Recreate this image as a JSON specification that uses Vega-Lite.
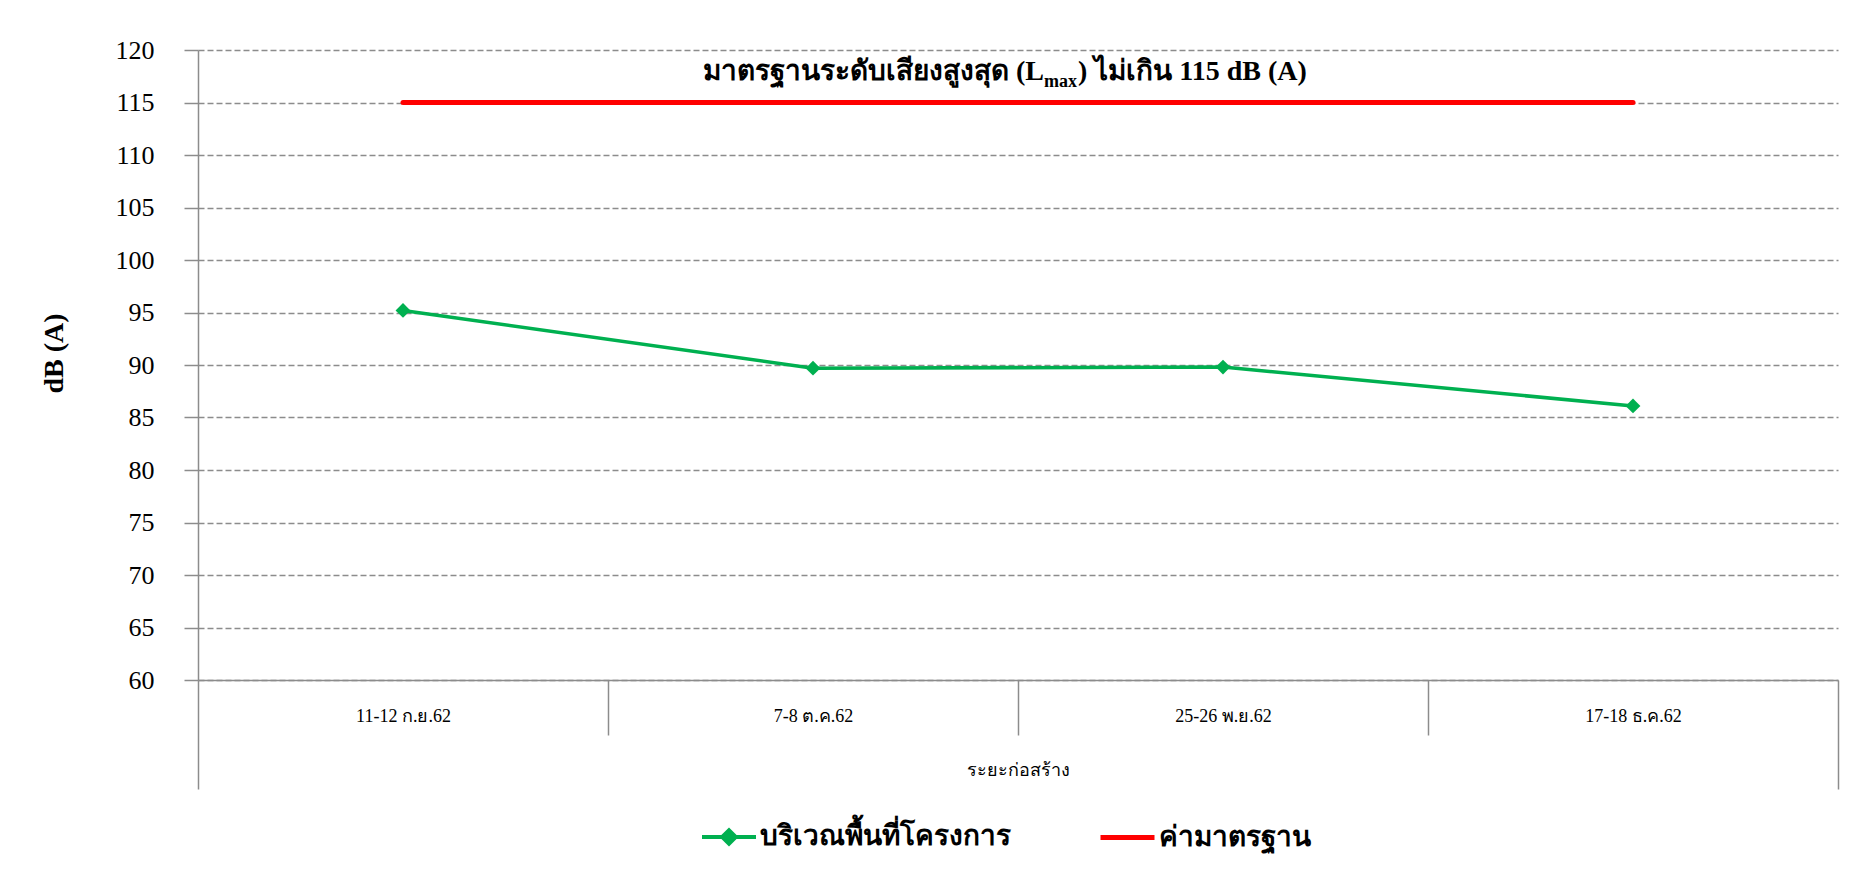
{
  "$schema": "https://vega.github.io/schema/vega-lite/v6.json",
  "autosize": {"type": "none"},
  "width": 1640,
  "height": 630,
  "padding": {"left": 198, "top": 50, "right": 37, "bottom": 215},
  "background": "white",
  "config": {"view": {"stroke": null}, "font": "Liberation Serif"},
  "datasets": {
    "measured": [
      {"period": "11-12 ก.ย.62", "value": 95.2, "series": "บริเวณพื้นที่โครงการ"},
      {"period": "7-8 ต.ค.62", "value": 89.7, "series": "บริเวณพื้นที่โครงการ"},
      {"period": "25-26 พ.ย.62", "value": 89.8, "series": "บริเวณพื้นที่โครงการ"},
      {"period": "17-18 ธ.ค.62", "value": 86.1, "series": "บริเวณพื้นที่โครงการ"}
    ],
    "standard": [
      {"period": "11-12 ก.ย.62", "value": 115, "series": "ค่ามาตรฐาน"},
      {"period": "7-8 ต.ค.62", "value": 115, "series": "ค่ามาตรฐาน"},
      {"period": "25-26 พ.ย.62", "value": 115, "series": "ค่ามาตรฐาน"},
      {"period": "17-18 ธ.ค.62", "value": 115, "series": "ค่ามาตรฐาน"}
    ],
    "note": [
      {"period": "25-26 พ.ย.62", "value": 117.9, "a": "มาตรฐานระดับเสียงสูงสุด (L", "b": "max", "c": ") ไม่เกิน 115 dB (A)"}
    ]
  },
  "layer": [
    {
      "data": {"name": "standard"},
      "mark": {"type": "line", "color": "#FF0000", "strokeWidth": 5, "strokeCap": "round"},
      "encoding": {
        "x": {
          "field": "period", "type": "nominal", "sort": null,
          "scale": {"type": "band", "paddingInner": 0, "paddingOuter": 0},
          "axis": {
            "title": "ระยะก่อสร้าง", "titleFont": "Liberation Serif", "titleFontSize": 18, "titleFontWeight": "normal", "titleColor": "black", "titlePadding": -28,
            "labelFont": "Liberation Serif", "labelFontSize": 18, "labelColor": "black", "labelAngle": 0,
            "labelPadding": {"condition": {"test": "datum.index === 1", "value": -82}, "value": -28},
            "tickBand": "extent",
            "tickSize": {"condition": {"test": "datum.index === 1 || !(datum.index >= 0 && datum.index < 1) || datum.extra", "value": 109}, "value": 55},
            "tickColor": "#8c8c8c", "tickWidth": 1.5, "domainColor": "#8c8c8c", "domainWidth": 1.5, "grid": false
          }
        },
        "y": {
          "field": "value", "type": "quantitative",
          "scale": {"domain": [60, 120], "nice": false, "zero": false},
          "axis": {
            "values": [60, 65, 70, 75, 80, 85, 90, 95, 100, 105, 110, 115, 120],
            "title": "dB (A)", "titleFont": "Liberation Serif", "titleFontSize": 28, "titleFontWeight": "bold", "titleColor": "black", "titlePadding": 47, "titleY": 303,
            "labelFont": "Liberation Serif", "labelFontSize": 26, "labelColor": "black", "labelPadding": 30,
            "tickSize": 14, "tickColor": "#8c8c8c", "tickWidth": 1.5, "domainColor": "#8c8c8c", "domainWidth": 1.5,
            "grid": true, "gridDash": [6, 3], "gridColor": "#8c8c8c", "gridWidth": 1.5
          }
        },
        "color": {
          "field": "series", "type": "nominal",
          "scale": {"range": ["#FF0000"]},
          "legend": {
            "title": null, "orient": "none", "legendX": 900, "legendY": 758,
            "symbolType": "stroke", "symbolSize": 2916, "symbolStrokeWidth": 5, "symbolStrokeColor": "#FF0000",
            "labelFont": "Liberation Serif", "labelFontSize": 28, "labelFontWeight": "bold", "labelColor": "black", "labelOffset": 2, "labelLimit": 0
          }
        }
      }
    },
    {
      "data": {"name": "measured"},
      "mark": {"type": "line", "color": "#00B050", "strokeWidth": 3.5, "point": {"shape": "diamond", "filled": true, "size": 220, "color": "#00B050"}},
      "encoding": {
        "x": {"field": "period", "type": "nominal", "sort": null},
        "y": {"field": "value", "type": "quantitative"},
        "color": {
          "field": "series", "type": "nominal",
          "scale": {"range": ["#00B050"]},
          "legend": {
            "title": null, "orient": "none", "legendX": 502, "legendY": 758,
            "symbolType": "M-1,0L1,0M-0.25,0L0,-0.25L0.25,0L0,0.25Z", "symbolSize": 2916, "symbolStrokeWidth": 4,
            "symbolFillColor": "#00B050", "symbolStrokeColor": "#00B050",
            "labelFont": "Liberation Serif", "labelFontSize": 28, "labelFontWeight": "bold", "labelColor": "black", "labelOffset": 2, "labelLimit": 0
          }
        }
      }
    },
    {
      "data": {"name": "note"},
      "mark": {"type": "text", "align": "right", "baseline": "middle", "font": "Liberation Serif", "fontSize": 28, "fontWeight": "bold", "color": "black", "dx": 26},
      "encoding": {
        "x": {"field": "period", "type": "nominal", "sort": null, "bandPosition": 0},
        "y": {"field": "value", "type": "quantitative"},
        "text": {"field": "a"}
      }
    },
    {
      "data": {"name": "note"},
      "mark": {"type": "text", "align": "left", "baseline": "middle", "font": "Liberation Serif", "fontSize": 18, "fontWeight": "bold", "color": "black", "dx": 26, "dy": 10},
      "encoding": {
        "x": {"field": "period", "type": "nominal", "sort": null, "bandPosition": 0},
        "y": {"field": "value", "type": "quantitative"},
        "text": {"field": "b"}
      }
    },
    {
      "data": {"name": "note"},
      "mark": {"type": "text", "align": "left", "baseline": "middle", "font": "Liberation Serif", "fontSize": 28, "fontWeight": "bold", "color": "black", "dx": 60},
      "encoding": {
        "x": {"field": "period", "type": "nominal", "sort": null, "bandPosition": 0},
        "y": {"field": "value", "type": "quantitative"},
        "text": {"field": "c"}
      }
    }
  ],
  "resolve": {"scale": {"color": "independent"}}
}
